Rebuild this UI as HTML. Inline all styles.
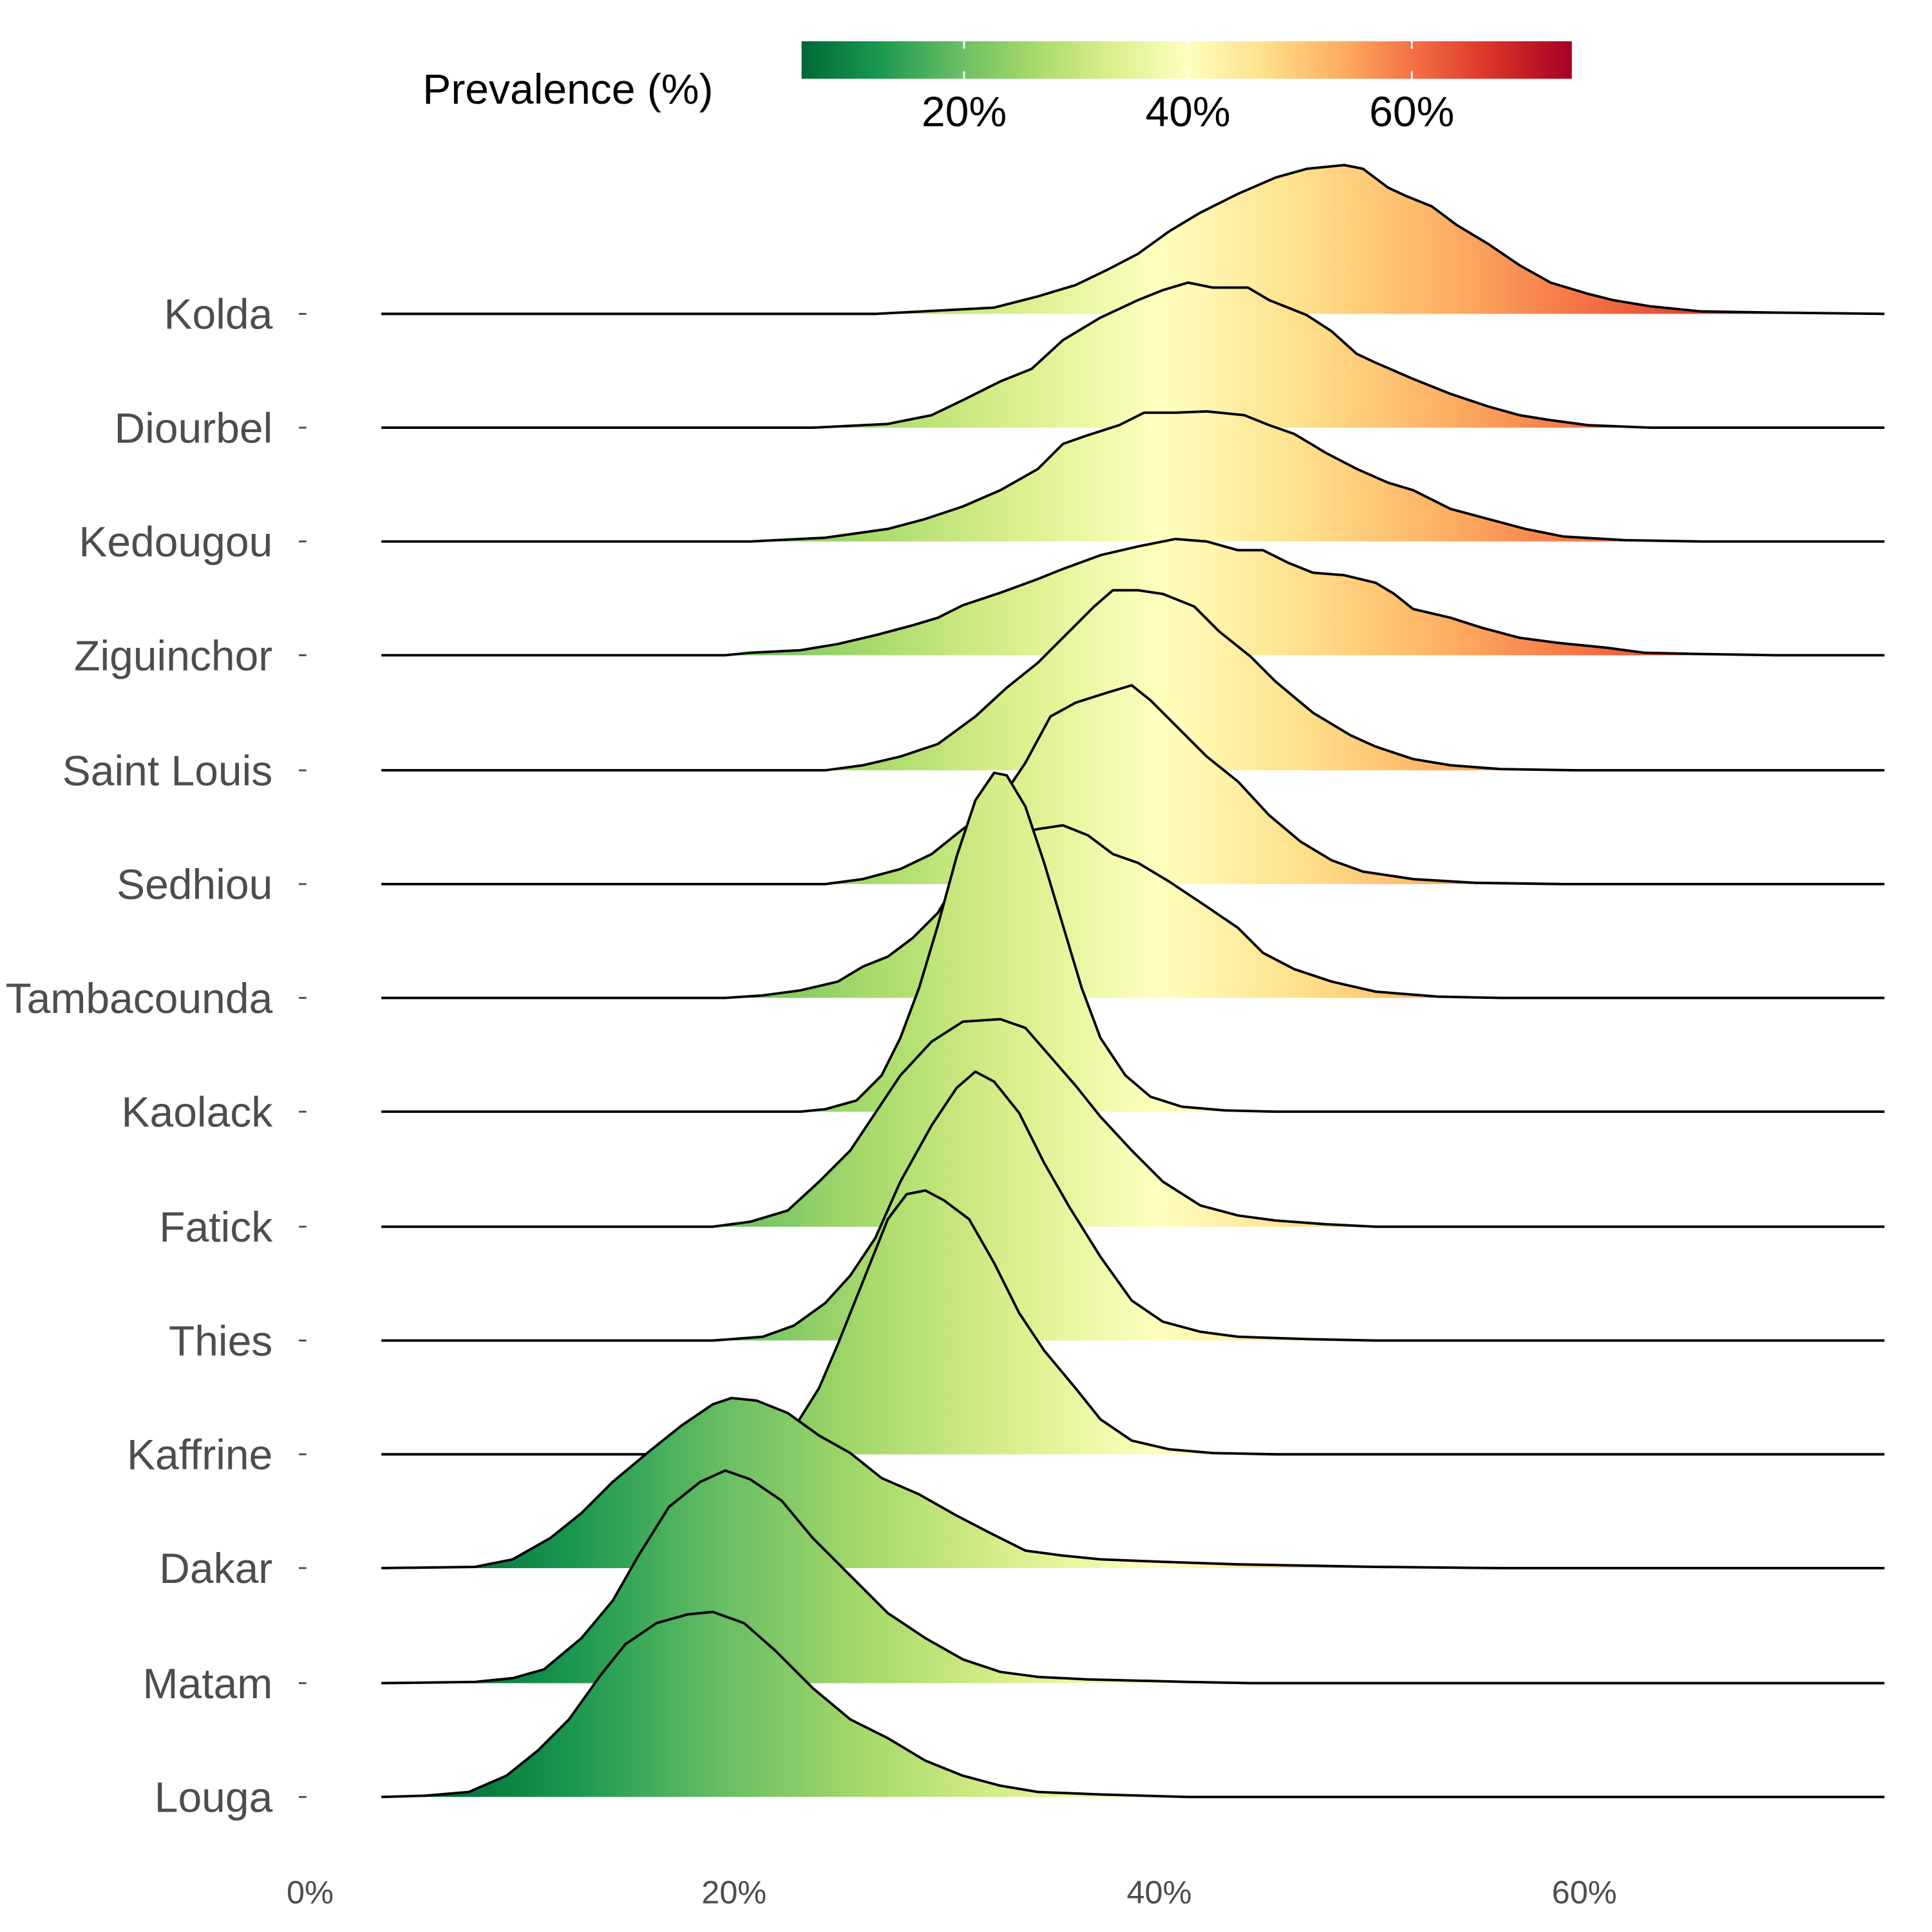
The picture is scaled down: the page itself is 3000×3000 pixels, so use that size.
<!DOCTYPE html>
<html><head><meta charset="utf-8"><style>html,body{margin:0;padding:0;background:#fff}svg{display:block}</style></head>
<body>
<svg width="3000" height="3000" viewBox="0 0 1545 1545" xmlns="http://www.w3.org/2000/svg" font-family="Liberation Sans, Arial, sans-serif">
<defs>
<linearGradient id="g" gradientUnits="userSpaceOnUse" x1="341.5" y1="0" x2="1511" y2="0">
<stop offset="0" stop-color="#006837"/><stop offset="0.1" stop-color="#1a9850"/><stop offset="0.2" stop-color="#66bd63"/><stop offset="0.3" stop-color="#a6d96a"/><stop offset="0.4" stop-color="#d9ef8b"/><stop offset="0.5" stop-color="#ffffbf"/><stop offset="0.6" stop-color="#fee08b"/><stop offset="0.7" stop-color="#fdae61"/><stop offset="0.8" stop-color="#f46d43"/><stop offset="0.9" stop-color="#d73027"/><stop offset="1" stop-color="#a50026"/>
</linearGradient>
<linearGradient id="cb" x1="0" y1="0" x2="1" y2="0">
<stop offset="0" stop-color="#006837"/><stop offset="0.1" stop-color="#1a9850"/><stop offset="0.2" stop-color="#66bd63"/><stop offset="0.3" stop-color="#a6d96a"/><stop offset="0.4" stop-color="#d9ef8b"/><stop offset="0.5" stop-color="#ffffbf"/><stop offset="0.6" stop-color="#fee08b"/><stop offset="0.7" stop-color="#fdae61"/><stop offset="0.8" stop-color="#f46d43"/><stop offset="0.9" stop-color="#d73027"/><stop offset="1" stop-color="#a50026"/>
</linearGradient>
</defs>
<rect width="1545" height="1545" fill="#fff"/>
<text x="338" y="83" font-size="34" fill="#000">Prevalence (%)</text>
<rect x="641" y="33" width="616" height="30" fill="url(#cb)"/>
<g stroke="#fff" stroke-width="1.5"><line x1="771" y1="33" x2="771" y2="39"/><line x1="771" y1="57" x2="771" y2="63"/><line x1="950" y1="33" x2="950" y2="39"/><line x1="950" y1="57" x2="950" y2="63"/><line x1="1129" y1="33" x2="1129" y2="39"/><line x1="1129" y1="57" x2="1129" y2="63"/></g>
<g font-size="34" fill="#000" text-anchor="middle"><text x="771" y="101">20%</text><text x="950" y="101">40%</text><text x="1129" y="101">60%</text></g>

<g fill="url(#g)" stroke="#000" stroke-width="2" stroke-linejoin="round">
<g transform="translate(0,251)"><polygon stroke="none" points="305,0 700,0 795,-5 830,-14 860,-23 885,-35 910,-48 935,-66 960,-81 990,-96 1020,-109 1045,-116 1075,-119 1090,-116 1110,-101 1125,-94 1145,-86 1165,-71 1190,-56 1215,-39 1240,-25 1270,-16 1290,-11 1320,-6 1360,-2 1420,-1 1507,0"/><polyline fill="none" points="305,0 700,0 795,-5 830,-14 860,-23 885,-35 910,-48 935,-66 960,-81 990,-96 1020,-109 1045,-116 1075,-119 1090,-116 1110,-101 1125,-94 1145,-86 1165,-71 1190,-56 1215,-39 1240,-25 1270,-16 1290,-11 1320,-6 1360,-2 1420,-1 1507,0"/></g>
<g transform="translate(0,342)"><polygon stroke="none" points="305,0 650,0 710,-3 745,-10 770,-22 800,-37 825,-47 850,-70 880,-88 910,-102 930,-110 950,-116 970,-112 985,-112 998,-112 1015,-102 1045,-90 1065,-77 1085,-59 1100,-52 1130,-39 1160,-27 1190,-17 1215,-10 1240,-6 1270,-2 1320,0 1507,0"/><polyline fill="none" points="305,0 650,0 710,-3 745,-10 770,-22 800,-37 825,-47 850,-70 880,-88 910,-102 930,-110 950,-116 970,-112 985,-112 998,-112 1015,-102 1045,-90 1065,-77 1085,-59 1100,-52 1130,-39 1160,-27 1190,-17 1215,-10 1240,-6 1270,-2 1320,0 1507,0"/></g>
<g transform="translate(0,433)"><polygon stroke="none" points="305,0 600,0 660,-3 710,-10 740,-18 770,-28 800,-41 830,-58 850,-78 870,-85 895,-93 915,-103 940,-103 965,-104 995,-101 1015,-93 1035,-86 1060,-71 1085,-58 1110,-47 1130,-41 1160,-26 1190,-18 1220,-10 1250,-4 1300,-1 1360,0 1507,0"/><polyline fill="none" points="305,0 600,0 660,-3 710,-10 740,-18 770,-28 800,-41 830,-58 850,-78 870,-85 895,-93 915,-103 940,-103 965,-104 995,-101 1015,-93 1035,-86 1060,-71 1085,-58 1110,-47 1130,-41 1160,-26 1190,-18 1220,-10 1250,-4 1300,-1 1360,0 1507,0"/></g>
<g transform="translate(0,524)"><polygon stroke="none" points="305,0 580,0 600,-2 640,-4 670,-9 700,-16 730,-24 750,-30 770,-40 800,-50 830,-61 850,-69 880,-80 910,-87 940,-93 965,-91 990,-84 1010,-84 1030,-74 1050,-66 1075,-64 1100,-58 1115,-49 1130,-37 1160,-30 1185,-22 1215,-14 1245,-10 1285,-6 1315,-2 1360,-1 1420,0 1507,0"/><polyline fill="none" points="305,0 580,0 600,-2 640,-4 670,-9 700,-16 730,-24 750,-30 770,-40 800,-50 830,-61 850,-69 880,-80 910,-87 940,-93 965,-91 990,-84 1010,-84 1030,-74 1050,-66 1075,-64 1100,-58 1115,-49 1130,-37 1160,-30 1185,-22 1215,-14 1245,-10 1285,-6 1315,-2 1360,-1 1420,0 1507,0"/></g>
<g transform="translate(0,616)"><polygon stroke="none" points="305,0 660,0 690,-4 720,-11 750,-21 780,-43 805,-66 830,-86 855,-111 875,-131 890,-144 910,-144 930,-141 955,-131 975,-111 1000,-91 1020,-71 1050,-46 1080,-28 1100,-19 1130,-9 1160,-4 1200,-1 1260,0 1507,0"/><polyline fill="none" points="305,0 660,0 690,-4 720,-11 750,-21 780,-43 805,-66 830,-86 855,-111 875,-131 890,-144 910,-144 930,-141 955,-131 975,-111 1000,-91 1020,-71 1050,-46 1080,-28 1100,-19 1130,-9 1160,-4 1200,-1 1260,0 1507,0"/></g>
<g transform="translate(0,707)"><polygon stroke="none" points="305,0 660,0 690,-4 720,-12 745,-24 770,-44 800,-67 820,-97 840,-134 860,-145 885,-153 905,-159 920,-147 940,-127 965,-102 990,-82 1015,-55 1040,-34 1065,-19 1090,-10 1130,-4 1180,-1 1250,0 1507,0"/><polyline fill="none" points="305,0 660,0 690,-4 720,-12 745,-24 770,-44 800,-67 820,-97 840,-134 860,-145 885,-153 905,-159 920,-147 940,-127 965,-102 990,-82 1015,-55 1040,-34 1065,-19 1090,-10 1130,-4 1180,-1 1250,0 1507,0"/></g>
<g transform="translate(0,798)"><polygon stroke="none" points="305,0 580,0 610,-2 640,-6 670,-13 690,-25 710,-33 730,-48 750,-68 775,-110 800,-128 830,-135 850,-138 870,-130 890,-115 910,-108 935,-93 965,-73 990,-56 1010,-36 1035,-23 1065,-13 1100,-5 1150,-1 1200,0 1507,0"/><polyline fill="none" points="305,0 580,0 610,-2 640,-6 670,-13 690,-25 710,-33 730,-48 750,-68 775,-110 800,-128 830,-135 850,-138 870,-130 890,-115 910,-108 935,-93 965,-73 990,-56 1010,-36 1035,-23 1065,-13 1100,-5 1150,-1 1200,0 1507,0"/></g>
<g transform="translate(0,889)"><polygon stroke="none" points="305,0 640,0 660,-2 685,-9 705,-29 720,-59 735,-99 750,-149 765,-204 780,-249 795,-271 805,-269 820,-244 835,-199 850,-149 865,-99 880,-59 900,-29 920,-12 945,-4 980,-1 1020,0 1507,0"/><polyline fill="none" points="305,0 640,0 660,-2 685,-9 705,-29 720,-59 735,-99 750,-149 765,-204 780,-249 795,-271 805,-269 820,-244 835,-199 850,-149 865,-99 880,-59 900,-29 920,-12 945,-4 980,-1 1020,0 1507,0"/></g>
<g transform="translate(0,981)"><polygon stroke="none" points="305,0 570,0 600,-4 630,-13 655,-36 680,-61 700,-91 720,-121 745,-148 770,-164 800,-166 820,-159 840,-136 860,-113 880,-88 905,-61 930,-36 960,-17 990,-9 1020,-5 1060,-2 1100,0 1507,0"/><polyline fill="none" points="305,0 570,0 600,-4 630,-13 655,-36 680,-61 700,-91 720,-121 745,-148 770,-164 800,-166 820,-159 840,-136 860,-113 880,-88 905,-61 930,-36 960,-17 990,-9 1020,-5 1060,-2 1100,0 1507,0"/></g>
<g transform="translate(0,1072)"><polygon stroke="none" points="305,0 570,0 610,-3 635,-12 660,-30 680,-52 700,-82 720,-127 745,-172 765,-202 780,-215 795,-207 815,-182 835,-142 855,-107 880,-67 905,-32 930,-15 960,-7 990,-3 1050,-1 1100,0 1507,0"/><polyline fill="none" points="305,0 570,0 610,-3 635,-12 660,-30 680,-52 700,-82 720,-127 745,-172 765,-202 780,-215 795,-207 815,-182 835,-142 855,-107 880,-67 905,-32 930,-15 960,-7 990,-3 1050,-1 1100,0 1507,0"/></g>
<g transform="translate(0,1163)"><polygon stroke="none" points="305,0 560,0 615,-1 635,-21 655,-53 670,-88 690,-138 710,-188 725,-208 740,-211 755,-203 775,-188 795,-153 815,-113 835,-83 860,-53 880,-28 905,-11 935,-4 970,-1 1020,0 1507,0"/><polyline fill="none" points="305,0 560,0 615,-1 635,-21 655,-53 670,-88 690,-138 710,-188 725,-208 740,-211 755,-203 775,-188 795,-153 815,-113 835,-83 860,-53 880,-28 905,-11 935,-4 970,-1 1020,0 1507,0"/></g>
<g transform="translate(0,1254)"><polygon stroke="none" points="305,0 380,-1 410,-7 440,-24 465,-44 490,-69 520,-94 545,-114 570,-131 585,-136 605,-134 630,-124 655,-106 680,-92 705,-72 735,-59 765,-42 790,-29 820,-14 850,-10 880,-7 930,-5 990,-3 1100,-1 1200,0 1507,0"/><polyline fill="none" points="305,0 380,-1 410,-7 440,-24 465,-44 490,-69 520,-94 545,-114 570,-131 585,-136 605,-134 630,-124 655,-106 680,-92 705,-72 735,-59 765,-42 790,-29 820,-14 850,-10 880,-7 930,-5 990,-3 1100,-1 1200,0 1507,0"/></g>
<g transform="translate(0,1346)"><polygon stroke="none" points="305,0 380,-1 410,-4 435,-11 465,-36 490,-66 510,-101 535,-141 560,-161 580,-170 600,-163 625,-146 650,-116 680,-86 710,-56 740,-36 770,-19 800,-9 830,-5 870,-3 950,-1 1000,0 1507,0"/><polyline fill="none" points="305,0 380,-1 410,-4 435,-11 465,-36 490,-66 510,-101 535,-141 560,-161 580,-170 600,-163 625,-146 650,-116 680,-86 710,-56 740,-36 770,-19 800,-9 830,-5 870,-3 950,-1 1000,0 1507,0"/></g>
<g transform="translate(0,1437)"><polygon stroke="none" points="305,0 340,-1 375,-4 405,-17 430,-37 455,-62 480,-97 500,-122 525,-139 550,-146 570,-148 595,-139 620,-117 650,-87 680,-62 710,-47 740,-29 770,-17 800,-9 830,-4 880,-2 950,0 1507,0"/><polyline fill="none" points="305,0 340,-1 375,-4 405,-17 430,-37 455,-62 480,-97 500,-122 525,-139 550,-146 570,-148 595,-139 620,-117 650,-87 680,-62 710,-47 740,-29 770,-17 800,-9 830,-4 880,-2 950,0 1507,0"/></g>
</g>

<g font-size="34" fill="#4d4d4d" text-anchor="end">
<text x="218" y="263">Kolda</text><text x="218" y="354">Diourbel</text><text x="218" y="445">Kedougou</text><text x="218" y="536">Ziguinchor</text><text x="218" y="628">Saint Louis</text><text x="218" y="719">Sedhiou</text><text x="218" y="810">Tambacounda</text><text x="218" y="901">Kaolack</text><text x="218" y="993">Fatick</text><text x="218" y="1084">Thies</text><text x="218" y="1175">Kaffrine</text><text x="218" y="1266">Dakar</text><text x="218" y="1358">Matam</text><text x="218" y="1449">Louga</text>
</g>
<g stroke="#4d4d4d" stroke-width="1.5">
<line x1="239" x2="245" y1="251" y2="251"/><line x1="239" x2="245" y1="342" y2="342"/><line x1="239" x2="245" y1="433" y2="433"/><line x1="239" x2="245" y1="524" y2="524"/><line x1="239" x2="245" y1="616" y2="616"/><line x1="239" x2="245" y1="707" y2="707"/><line x1="239" x2="245" y1="798" y2="798"/><line x1="239" x2="245" y1="889" y2="889"/><line x1="239" x2="245" y1="981" y2="981"/><line x1="239" x2="245" y1="1072" y2="1072"/><line x1="239" x2="245" y1="1163" y2="1163"/><line x1="239" x2="245" y1="1254" y2="1254"/><line x1="239" x2="245" y1="1346" y2="1346"/><line x1="239" x2="245" y1="1437" y2="1437"/>
</g>
<g font-size="26" fill="#4d4d4d" text-anchor="middle">
<text x="248" y="1522">0%</text><text x="587" y="1522">20%</text><text x="927" y="1522">40%</text><text x="1267" y="1522">60%</text>
</g>
</svg>
</body></html>
